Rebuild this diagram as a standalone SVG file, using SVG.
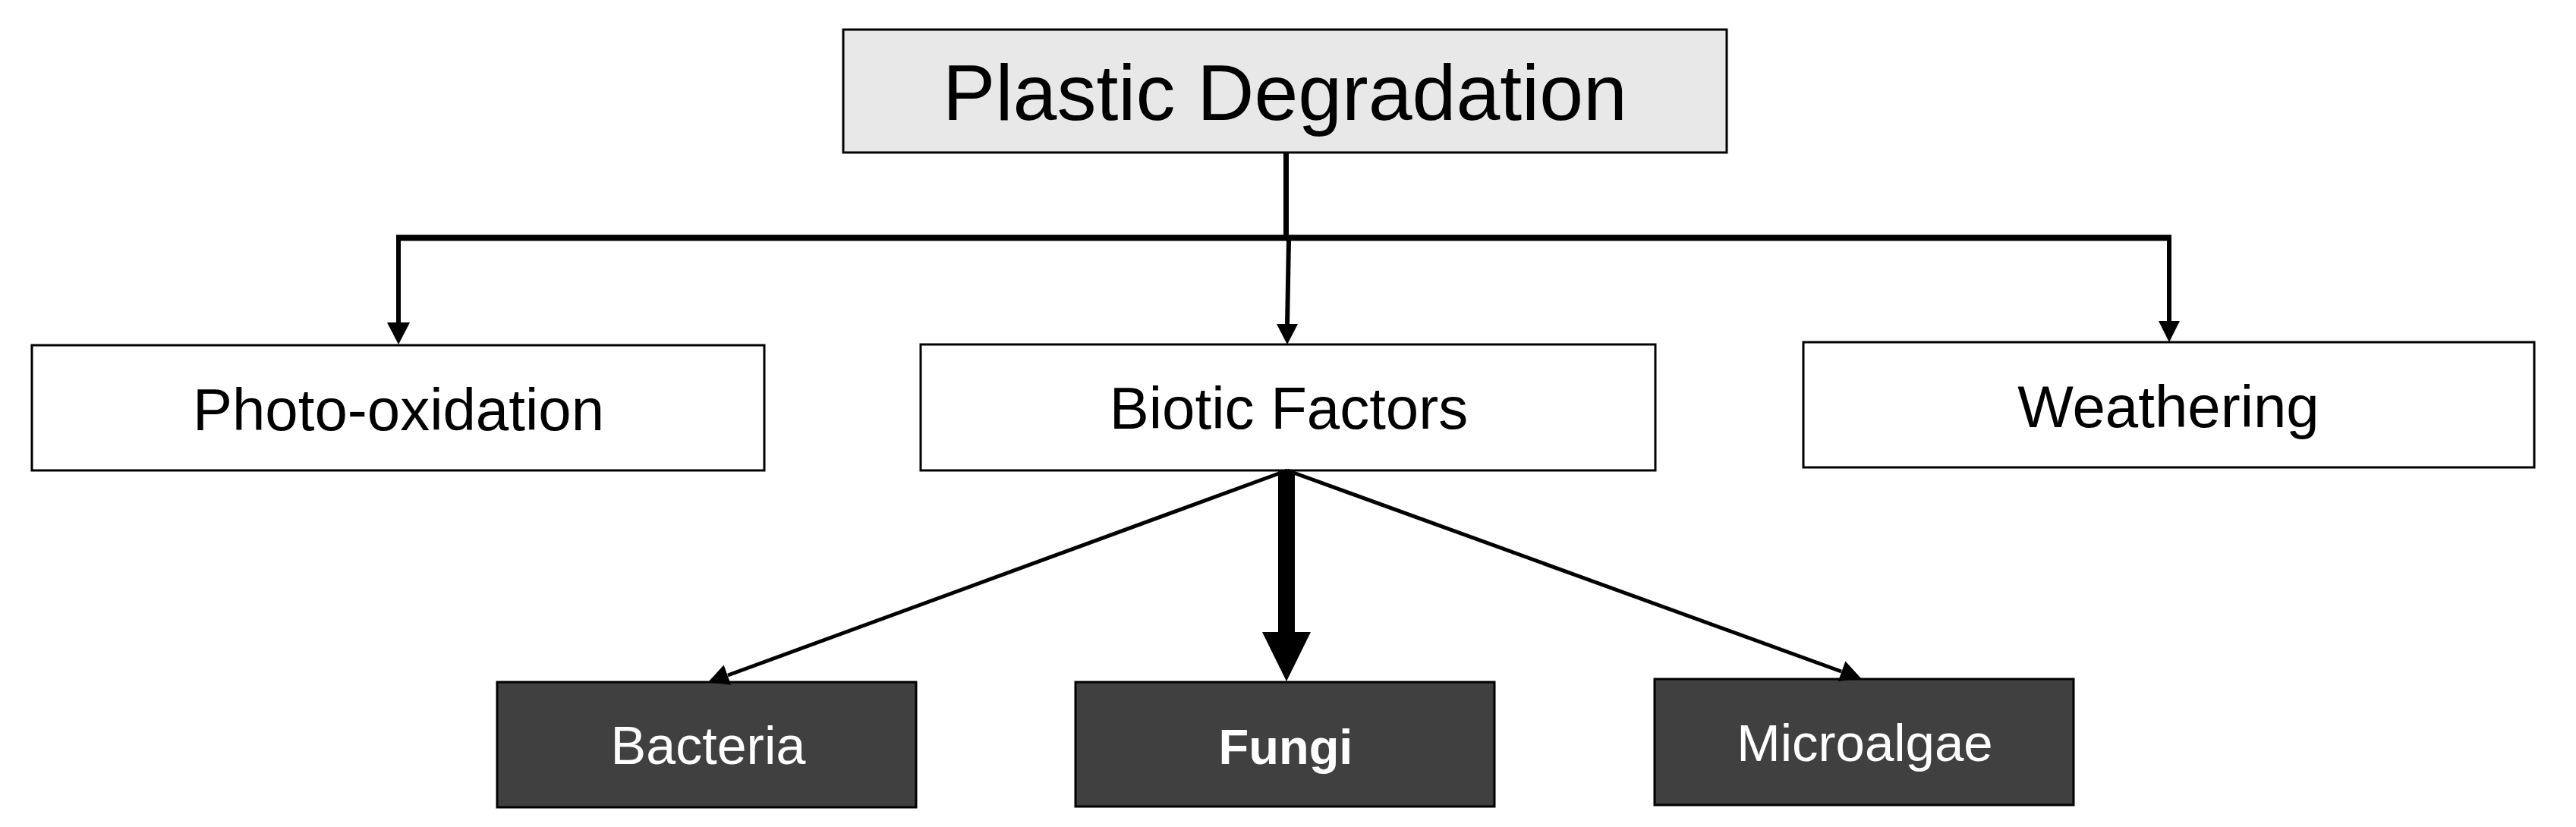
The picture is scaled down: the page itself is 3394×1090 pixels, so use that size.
<svg xmlns="http://www.w3.org/2000/svg" width="3394" height="1090" viewBox="0 0 3394 1090">
  <style>
    .box { fill: #ffffff; stroke: #000000; stroke-width: 3; }
    .top { fill: #e8e8e8; stroke: #000000; stroke-width: 3; }
    .dark { fill: #404040; stroke: #000000; stroke-width: 3; }
    .lbl { font-family: "Liberation Sans", Arial, sans-serif; fill: #000000; text-anchor: middle; }
    .wlbl { font-family: "Liberation Sans", Arial, sans-serif; fill: #ffffff; text-anchor: middle; }
    .ln { stroke: #000000; fill: none; stroke-linecap: butt; }
    .head { fill: #000000; stroke: none; }
  </style>
  <rect width="3394" height="1090" fill="#ffffff"/>

  <g id="node-plastic-degradation">
    <rect class="top" x="1111" y="39" width="1164" height="162"/>
    <text class="lbl" x="1693" y="158" font-size="104">Plastic Degradation</text>
  </g>
  <g id="node-photo-oxidation">
    <rect class="box" x="42" y="455" width="965" height="165"/>
    <text class="lbl" x="525" y="567" font-size="78">Photo-oxidation</text>
  </g>
  <g id="node-biotic-factors">
    <rect class="box" x="1213" y="454" width="968" height="166"/>
    <text class="lbl" x="1698" y="565" font-size="78">Biotic Factors</text>
  </g>
  <g id="node-weathering">
    <rect class="box" x="2376" y="451" width="963" height="165"/>
    <text class="lbl" x="2857" y="563" font-size="78">Weathering</text>
  </g>
  <g id="node-bacteria">
    <rect class="dark" x="655" y="899" width="552" height="165"/>
    <text class="wlbl" x="933" y="1007" font-size="70">Bacteria</text>
  </g>
  <g id="node-fungi">
    <rect class="dark" x="1417" y="899" width="552" height="164"/>
    <text class="wlbl" x="1694" y="1007" font-size="65" font-weight="bold">Fungi</text>
  </g>
  <g id="node-microalgae">
    <rect class="dark" x="2180" y="895" width="552" height="166"/>
    <text class="wlbl" x="2457" y="1003" font-size="69">Microalgae</text>
  </g>

  <g id="connectors">
    <line class="ln" x1="1694.5" y1="201" x2="1694.5" y2="312" stroke-width="7"/>
    <line class="ln" x1="522" y1="313.5" x2="2861" y2="313.5" stroke-width="8"/>
    <line class="ln" x1="525" y1="310" x2="525" y2="427" stroke-width="6"/>
    <polygon class="head" points="510,425 540,425 525,454"/>
    <line class="ln" x1="1698" y1="317" x2="1696" y2="429" stroke-width="6"/>
    <polygon class="head" points="1682,427 1710,427 1696,454"/>
    <line class="ln" x1="2858" y1="310" x2="2858" y2="425" stroke-width="6"/>
    <polygon class="head" points="2844,423 2872,423 2858,451"/>
    <line class="ln" x1="1696" y1="620" x2="959" y2="890" stroke-width="5"/>
    <polygon class="head" points="953.6,876.6 963.2,902.8 933,899"/>
    <line class="ln" x1="1695" y1="620" x2="1695" y2="835" stroke-width="22"/>
    <polygon class="head" points="1663,833 1727,833 1695,898"/>
    <line class="ln" x1="1696" y1="620" x2="2426" y2="885" stroke-width="5"/>
    <polygon class="head" points="2431.4,871.6 2421.8,898 2452,894"/>
  </g>
</svg>
